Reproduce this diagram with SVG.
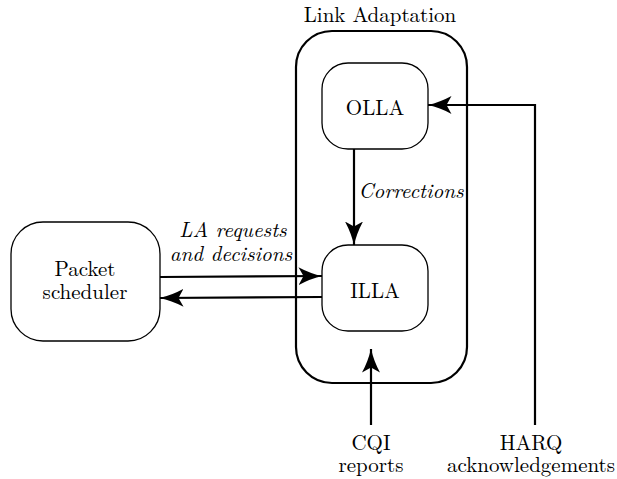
<svg xmlns="http://www.w3.org/2000/svg" width="617" height="479" viewBox="0 0 617 479">
<style>
text{font-size:21px;fill:#000;text-anchor:middle}
.it{font-style:italic}
.box{fill:#fff;stroke:#000;stroke-width:1.3}
.outer{fill:none;stroke:#000;stroke-width:2.2}
.ln{fill:none;stroke:#000;stroke-width:2.2}
</style>
<defs>
<marker id="ah" viewBox="0 0 24 18" refX="23.5" refY="9" markerWidth="24" markerHeight="18" markerUnits="userSpaceOnUse" orient="auto">
<path d="M0,0 Q12,6.5 24,9 Q12,11.5 0,18 L5,9 Z" fill="#000"/>
</marker>
</defs>
<rect width="617" height="479" fill="#fff"/>
<g font-family="Latin Modern Roman, Liberation Serif, serif">
<g id="link-adaptation">
<rect class="outer" x="296" y="31" width="171" height="352" rx="36"/>
<text x="380" y="22">Link Adaptation</text>
</g>
<g id="olla">
<rect class="box" x="322" y="63" width="106" height="86" rx="26"/>
<text x="375" y="115">OLLA</text>
</g>
<g id="illa">
<rect class="box" x="322" y="245" width="106" height="86" rx="26"/>
<text x="375" y="298">ILLA</text>
</g>
<g id="packet-scheduler">
<rect class="box" x="11" y="222" width="149" height="119" rx="32"/>
<text x="85" y="276">Packet</text>
<text x="85" y="299">scheduler</text>
</g>
<g id="connectors">
<path class="ln" d="M354,149 L354,245" marker-end="url(#ah)"/>
<path class="ln" d="M160,277 L322,276" marker-end="url(#ah)"/>
<path class="ln" d="M322,297 L160,298" marker-end="url(#ah)"/>
<path class="ln" d="M535,425 L535,105 L428,105" marker-end="url(#ah)"/>
<path class="ln" d="M371,425 L371,349" marker-end="url(#ah)"/>
</g>
<g id="labels">
<text class="it" x="411" y="198">Corrections</text>
<text class="it" x="233" y="237">LA requests</text>
<text class="it" x="231" y="261">and decisions</text>
<text x="371" y="450">CQI</text>
<text x="371" y="472">reports</text>
<text x="531" y="450">HARQ</text>
<text x="531" y="472">acknowledgements</text>
</g>
</g>
</svg>
